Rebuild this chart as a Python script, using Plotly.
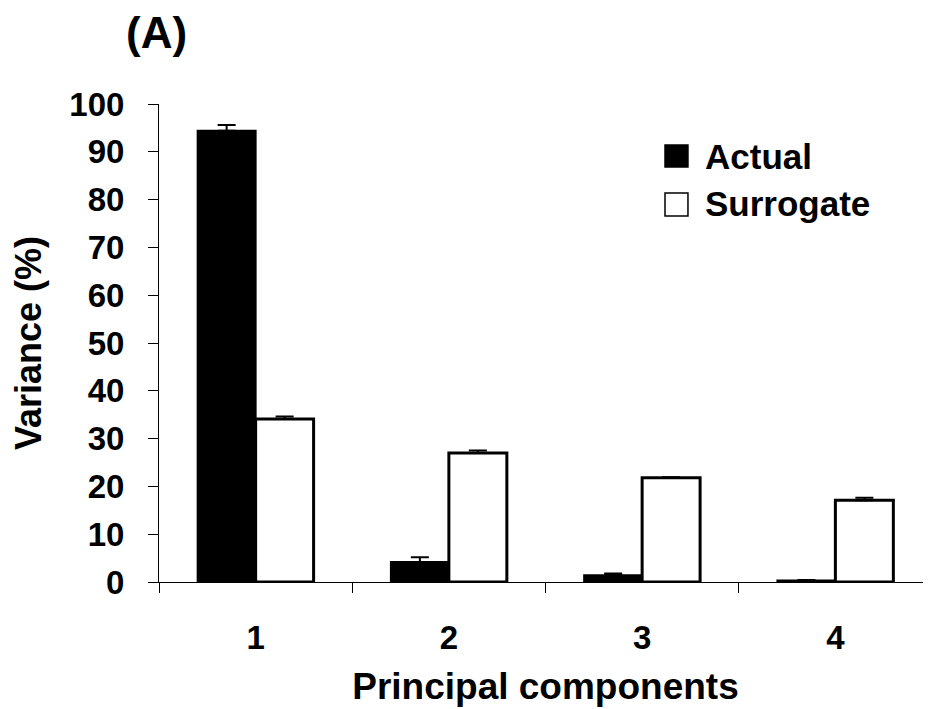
import plotly.graph_objects as go

components = ["1", "2", "3", "4"]
actual = [94.4, 4.2, 1.4, 0.3]
actual_err = [1.2, 1.0, 0.4, 0.1]
surrogate = [34.1, 27.0, 21.8, 17.1]
surrogate_err = [0.5, 0.5, 0.1, 0.5]
yticks = [0, 10, 20, 30, 40, 50, 60, 70, 80, 90, 100]
series_names = ["Actual", "Surrogate"]
series_fill = ["black", "white"]

FONT = "Liberation Sans, Arial, sans-serif"

fig = go.Figure()
fig.add_trace(go.Bar(
    x=components, y=actual, name=series_names[0], showlegend=False,
    marker=dict(color=series_fill[0], line=dict(color="black", width=2)),
    error_y=dict(type="data", array=actual_err, arrayminus=[0]*4, symmetric=False,
                 color="black", thickness=2, width=9),
))
fig.add_trace(go.Bar(
    x=components, y=surrogate, name=series_names[1], showlegend=False,
    marker=dict(color=series_fill[1], line=dict(color="black", width=3)),
    error_y=dict(type="data", array=surrogate_err, arrayminus=[0]*4, symmetric=False,
                 color="black", thickness=2, width=9),
))

fig.update_layout(
    width=931, height=709,
    margin=dict(l=151, r=7, t=96, b=135),
    paper_bgcolor="white", plot_bgcolor="white",
    barmode="group", bargap=0.4, bargroupgap=0,
    font=dict(family=FONT, size=33, color="black", weight="bold"),
    showlegend=False,
)

# Legend (Excel-style large square keys)
legend_rows = [(0.9142, 0.8682, 0.8912), (0.8138, 0.7657, 0.7908)]
for (y1, y0, yc), nm, fill in zip(legend_rows, series_names, series_fill):
    fig.add_shape(type="rect", xref="paper", yref="paper",
                  x0=0.6546, x1=0.6843, y0=y0, y1=y1,
                  fillcolor=fill, line=dict(color="black", width=1.5))
    fig.add_annotation(text="<b>%s</b>" % nm, xref="paper", yref="paper",
                       x=0.7038, y=yc, xanchor="left", yanchor="middle",
                       showarrow=False,
                       font=dict(family=FONT, size=35, color="black"))

fig.add_annotation(text="<b>(A)</b>", xref="paper", yref="paper",
                   x=-0.003, y=1.15, xanchor="center", yanchor="middle",
                   showarrow=False, font=dict(family=FONT, size=44, color="black"))

fig.update_xaxes(
    type="category", showline=True, linecolor="black", linewidth=1,
    ticks="outside", tickson="boundaries", ticklen=10, tickcolor="black",
    tickfont=dict(family=FONT, size=33, weight="bold"),
    ticklabelstandoff=26,
    title=dict(text="Principal components", standoff=18,
               font=dict(family=FONT, size=37, weight="bold")),
    showgrid=False, zeroline=False,
)
fig.update_yaxes(
    range=[0, 100], tickvals=yticks, ticktext=[str(v) for v in yticks],
    showline=True, linecolor="black", linewidth=1,
    ticks="outside", ticklen=10, tickcolor="black",
    tickfont=dict(family=FONT, size=33, weight="bold"),
    ticklabelstandoff=17,
    title=dict(text="Variance (%)", standoff=22,
               font=dict(family=FONT, size=36, weight="bold")),
    showgrid=False, zeroline=False,
)

fig.write_html("out.html")
